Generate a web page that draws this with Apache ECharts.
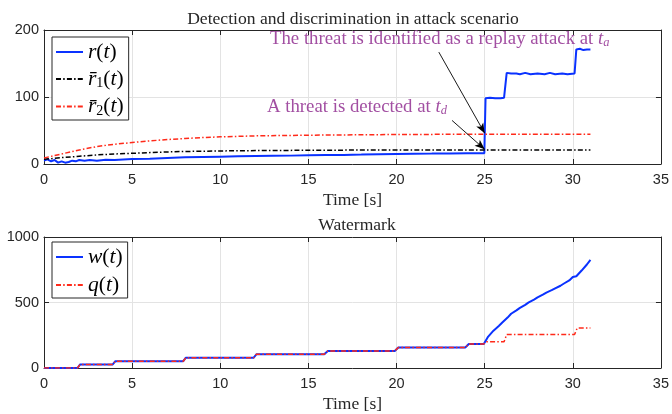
<!DOCTYPE html>
<html><head><meta charset="utf-8">
<script src="https://cdn.jsdelivr.net/npm/echarts@6/dist/echarts.min.js"></script>
<style>html,body{margin:0;padding:0;background:#fff}#c{width:672px;height:414px}</style>
</head><body><div id="c"></div>
<script>
// ---------- data ----------
const topTitle = 'Detection and discrimination in attack scenario';
const bottomTitle = 'Watermark';
const xLabel = 'Time [s]';

const rTime  = [0,0.2,0.4,0.6,0.8,1.0,1.2,1.4,1.6,1.8,2.0,2.3,2.6,3,3.5,4,5,6,7,8,9,10,11,12,13,14,15,16,17,18,19,20,21,22,23,24,24.98,25.05,25.3,25.6,25.9,26.1,26.25,26.5,26.8,27,27.3,27.6,28,28.4,28.7,29,29.4,29.7,30.1,30.2,30.4,30.6,30.8,31];
const rValue = [5,7,4,6,2,4,2,3,5,4,6,5,6,5,6.5,6,7.5,8,9,10,10.5,11,11.5,12,12.3,12.5,13,13.3,13.6,14,14.5,15,15.3,15.5,15.8,16,16,98,99,98,98,99,136,135,135,134,136,134,135,134,136,134,135,134,135,171,172,170,171,171];

const r1Time  = [0,1,2,3,4,5,6,7,8,10,12,15,20,25,31];
const r1Value = [7,9.5,11.5,13.5,15,16,17,18,18.7,19.5,20,20.5,21,21,21];

const r2Time  = [0,1,2,3,4,5,6,7,8,9,10,12,15,20,25,31];
const r2Value = [9,15,21,26,29.5,32,34.5,36.5,38,39.5,40.5,42,43,44,44.5,44.5];

const qTime  = [0,1.9,2.05,3.9,4.05,7.9,8.05,11.9,12.05,15.9,16.1,19.9,20.1,23.9,24.1,24.95,25.1,26.1,26.25,30.1,30.25,31];
const qValue = [0,0,27,27,52,52,79,79,105,105,130,130,156,156,183,183,200,200,256,256,305,305];

const wTime  = [0,1.9,2.05,3.9,4.05,7.9,8.05,11.9,12.05,15.9,16.1,19.9,20.1,23.9,24.1,24.95,25.2,25.5,25.8,26,26.3,26.5,26.8,27,27.3,27.5,27.8,28,28.3,28.5,28.8,29,29.3,29.5,29.8,30,30.2,30.5,30.8,31];
const wValue = [0,0,27,27,52,52,79,79,105,105,130,130,156,156,183,183,240,285,320,347,385,414,440,459,482,501,522,539,560,576,594,608,628,645,668,695,700,744,790,826];

// annotation arrows (data coordinates: [time, value])
const arrowFrom = [[22.4,167],[23.15,65]];
const arrowTo   = [[25,46],[25,22]];

const xTicksMax = 35, xInterval = 5;
const topYMax = 200, topYInterval = 100;
const botYMax = 1000, botYInterval = 500;

// ---------- helpers ----------
const zip = (a,b) => a.map((v,i)=>[v,b[i]]);
const SERIF = '"Liberation Serif", "DejaVu Serif", serif';
const SANS = '"Liberation Sans", Arial, sans-serif';
const AX = '#262626';
const BLUE = '#0a32ff', RED = '#ff2a1a', BLACK = '#000', PURPLE = '#a24fa2';
const DASHDOT = [5,2.2,1.5,2.2];

const gridTop = {left:44, top:30, width:618, height:134};
const gridBot = {left:44, top:237, width:618, height:135};

function mainX(gi){
  return {type:'value', gridIndex:gi, min:0, max:xTicksMax, interval:xInterval,
    name:xLabel, nameLocation:'middle', nameGap:27,
    nameTextStyle:{fontFamily:SERIF, fontSize:17.5, color:AX},
    axisLine:{show:true, onZero:false, lineStyle:{color:AX, width:1}},
    axisTick:{show:true, inside:true, length:5, lineStyle:{color:AX}},
    axisLabel:{fontFamily:SANS, fontSize:14.5, color:AX, margin:8},
    splitLine:{show:true, lineStyle:{color:'#e3e3e3', width:1}}};
}
function secX(gi){
  return {type:'value', gridIndex:gi, min:0, max:xTicksMax, interval:xInterval, position:'top',
    axisLine:{show:true, onZero:false, lineStyle:{color:AX, width:1}},
    axisTick:{show:true, inside:true, length:5, lineStyle:{color:AX}},
    axisLabel:{show:false}, splitLine:{show:false}};
}
function mainY(gi,max,intv){
  return {type:'value', gridIndex:gi, min:0, max:max, interval:intv,
    axisLine:{show:true, onZero:false, lineStyle:{color:AX, width:1}},
    axisTick:{show:true, inside:true, length:5, lineStyle:{color:AX}},
    axisLabel:{fontFamily:SANS, fontSize:14.5, color:AX, margin:5, formatter:v=>String(v)},
    splitLine:{show:true, lineStyle:{color:'#e3e3e3', width:1}}};
}
function secY(gi,max,intv){
  return {type:'value', gridIndex:gi, min:0, max:max, interval:intv, position:'right',
    axisLine:{show:true, onZero:false, lineStyle:{color:AX, width:1}},
    axisTick:{show:true, inside:true, length:5, lineStyle:{color:AX}},
    axisLabel:{show:false}, splitLine:{show:false}};
}

const legendRich = {
  i:{fontFamily:SERIF, fontStyle:'italic', fontSize:21.5, color:'#000'},
  n:{fontFamily:SERIF, fontSize:21.5, color:'#000'},
  s:{fontFamily:SERIF, fontSize:14, color:'#000', padding:[9,0,0,0]}
};
const legendLabels = {
  'r':  '{i|r}{n|(}{i|t}{n|)}',
  'r1': '{i|r\u0304}{s|1}{n|(}{i|t}{n|)}',
  'r2': '{i|r\u0304}{s|2}{n|(}{i|t}{n|)}',
  'w':  '{i|w}{n|(}{i|t}{n|)}',
  'q':  '{i|q}{n|(}{i|t}{n|)}'
};
function legend(names, top, gap){
  return {data:names, orient:'vertical', left:52, top:top, itemWidth:27, itemHeight:12,
    itemGap:gap, padding:[4,5,2,3], borderColor:'#262626', borderWidth:1, backgroundColor:'#fff',
    itemStyle:{color:'rgba(0,0,0,0)', borderColor:'rgba(0,0,0,0)', borderWidth:0},
    formatter:n=>legendLabels[n], textStyle:{rich:legendRich, padding:[0,0,0,0]},
    selectedMode:false};
}

const line = (name, data, color, type, xi, yi, width) => ({
  name, type:'line', data, xAxisIndex:xi, yAxisIndex:yi, symbol:'none', showSymbol:false,
  lineStyle:{color, width, type}, itemStyle:{color}, animation:false, silent:true, z:3});

const rSeries = line('r', zip(rTime,rValue), BLUE, 'solid', 0, 0, 2);
rSeries.markLine = {silent:true, animation:false, symbol:['none','arrow'], symbolSize:[6,10],
  label:{show:false}, lineStyle:{color:'#000', width:0.9, type:'solid'},
  data: arrowFrom.map((f,i)=>[{coord:f},{coord:arrowTo[i]}])};

const annRich = {
  a:{fill:PURPLE, fontFamily:SERIF, fontSize:18.8},
  i:{fill:PURPLE, fontFamily:SERIF, fontStyle:'italic', fontSize:18.8},
  s:{fill:PURPLE, fontFamily:SERIF, fontStyle:'italic', fontSize:12.5, padding:[7,0,0,0]}
};

const option = {
  backgroundColor:'#fff',
  animation:false,
  title:[
    {text:topTitle, left:348, textAlign:'center', top:5, textStyle:{fontFamily:SERIF, fontSize:17.6, fontWeight:'normal', color:AX}},
    {text:bottomTitle, left:352, textAlign:'center', top:211, textStyle:{fontFamily:SERIF, fontSize:17.5, fontWeight:'normal', color:AX}}
  ],
  grid:[gridTop, gridBot],
  xAxis:[mainX(0), secX(0), mainX(1), secX(1)],
  yAxis:[mainY(0,topYMax,topYInterval), secY(0,topYMax,topYInterval), mainY(1,botYMax,botYInterval), secY(1,botYMax,botYInterval)],
  legend:[legend(['r','r1','r2'],37,5), legend(['w','q'],242,6)],
  series:[
    rSeries,
    line('r1', zip(r1Time,r1Value), BLACK, DASHDOT, 0, 0, 1.5),
    line('r2', zip(r2Time,r2Value), RED, DASHDOT, 0, 0, 1.5),
    line('w', zip(wTime,wValue), BLUE, 'solid', 2, 2, 2),
    line('q', zip(qTime,qValue), RED, DASHDOT, 2, 2, 1.5)
  ],
  graphic:[
    {type:'text', left:270, top:30, z:10, style:{
      text:'{a|The threat is identified as a replay attack at }{i|t}{s|a}', rich:annRich}},
    {type:'text', left:267, top:98, z:10, style:{
      text:'{a|A threat is detected at }{i|t}{s|d}', rich:annRich}}
  ]
};
const chart = echarts.init(document.getElementById('c'), null, {renderer:'canvas'});
chart.setOption(option);
</script></body></html>
